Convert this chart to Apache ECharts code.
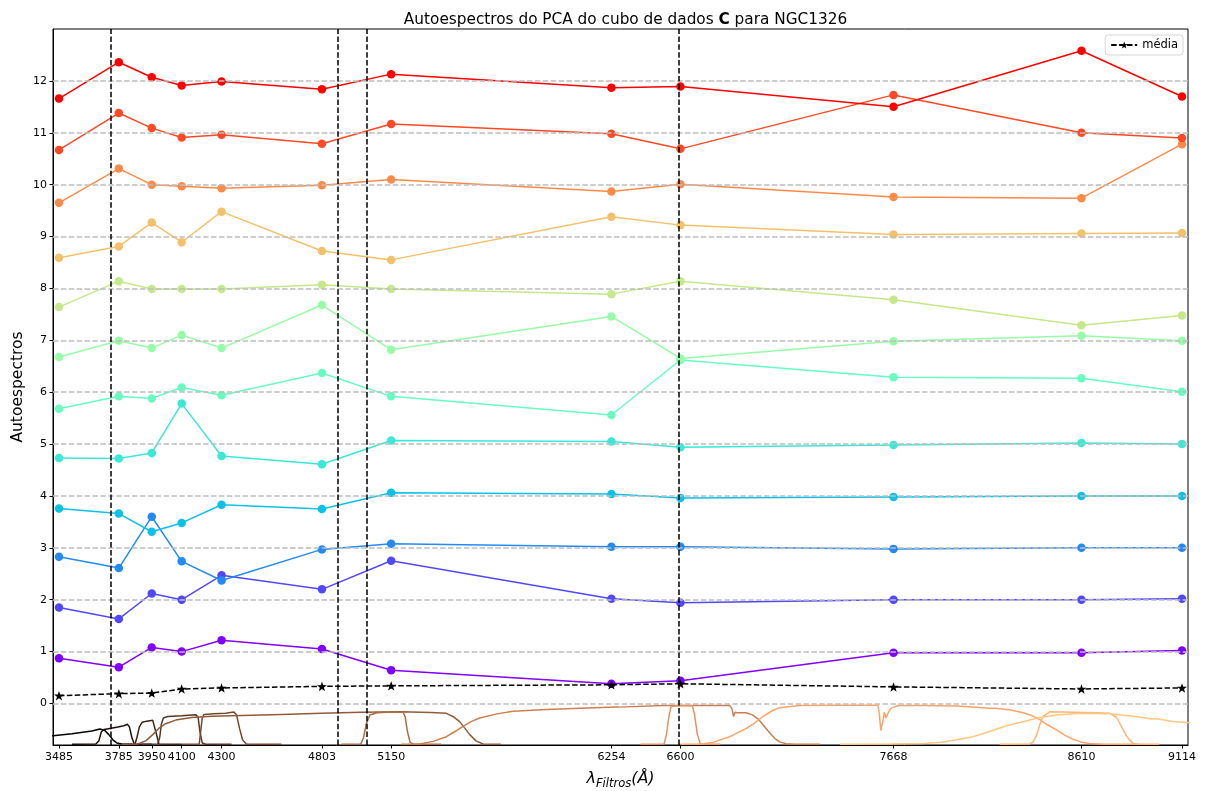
<!DOCTYPE html>
<html>
<head>
<meta charset="utf-8">
<script src="https://cdn.jsdelivr.net/npm/echarts@6/dist/echarts.min.js"></script>
<style>
  html, body { margin: 0; padding: 0; background: #ffffff; }
  #chart { width: 1207px; height: 791px; }
</style>
</head>
<body>
<div id="chart"></div>
<script>
// Central wavelengths of the 12 filters (Å) — also the x tick labels
const wavelengths = [3485, 3785, 3950, 4100, 4300, 4803, 5150, 6254, 6600, 7668, 8610, 9114];

// Eigenspectra, already shifted by their order (PC at offset 1 .. 12)
const pc01 = [0.87, 0.70, 1.08, 1.00, 1.22, 1.05, 0.64, 0.38, 0.44, 0.98, 0.98, 1.02];
const pc02 = [1.85, 1.63, 2.12, 2.00, 2.47, 2.20, 2.75, 2.02, 1.94, 2.00, 2.00, 2.02];
const pc03 = [2.83, 2.61, 3.60, 2.74, 2.37, 2.97, 3.08, 3.02, 3.02, 2.98, 3.00, 3.00];
const pc04 = [3.76, 3.66, 3.31, 3.48, 3.83, 3.75, 4.06, 4.04, 3.96, 3.98, 4.00, 4.00];
const pc05 = [4.73, 4.72, 4.83, 5.78, 4.77, 4.61, 5.07, 5.05, 4.94, 4.98, 5.02, 5.00];
const pc06 = [5.68, 5.92, 5.88, 6.09, 5.94, 6.37, 5.92, 5.56, 6.62, 6.29, 6.27, 6.01];
const pc07 = [6.68, 6.99, 6.85, 7.10, 6.85, 7.68, 6.82, 7.46, 6.65, 6.98, 7.09, 6.99];
const pc08 = [7.64, 8.14, 7.99, 7.99, 7.99, 8.07, 7.99, 7.89, 8.14, 7.78, 7.29, 7.48];
const pc09 = [8.59, 8.81, 9.27, 8.89, 9.48, 8.72, 8.55, 9.38, 9.22, 9.04, 9.06, 9.07];
const pc10 = [9.65, 10.31, 10.00, 9.97, 9.93, 9.99, 10.10, 9.87, 10.01, 9.76, 9.74, 10.78];
const pc11 = [10.67, 11.38, 11.09, 10.91, 10.96, 10.79, 11.17, 10.98, 10.69, 11.73, 11.00, 10.90];
const pc12 = [11.66, 12.36, 12.07, 11.91, 11.99, 11.84, 12.13, 11.87, 11.89, 11.50, 12.58, 11.70];

// Mean spectrum
const media = [0.15, 0.19, 0.20, 0.28, 0.30, 0.33, 0.34, 0.36, 0.38, 0.32, 0.28, 0.30];

// Redshifted emission lines: [OII]3727, Hβ, [OIII]5007, Hα
const emissionLines = [3744, 4883, 5030, 6593];

// Y tick values
const yTicks = [0, 1, 2, 3, 4, 5, 6, 7, 8, 9, 10, 11, 12];

// Filter transmission curves, scaled into the strip below zero: [λ (Å), level]
const fUJAVA = [[3250, -0.70], [3350, -0.66], [3455, -0.62], [3550, -0.585], [3650, -0.53], [3690, -0.49], [3700, -0.485], [3715, -0.52], [3735, -0.60], [3755, -0.70], [3775, -0.76], [3800, -0.78], [3850, -0.785]];
const fJ0378 = [[3550, -0.785], [3670, -0.78], [3685, -0.72], [3697, -0.55], [3710, -0.50], [3740, -0.48], [3780, -0.455], [3810, -0.43], [3828, -0.40], [3838, -0.45], [3850, -0.65], [3862, -0.78], [3950, -0.785]];
const fJ0395 = [[3800, -0.785], [3866, -0.78], [3876, -0.65], [3888, -0.45], [3902, -0.36], [3925, -0.34], [3955, -0.325], [3964, -0.36], [3974, -0.60], [3986, -0.78], [4100, -0.785]];
const fJ0410 = [[3900, -0.785], [3980, -0.78], [3990, -0.65], [3998, -0.40], [4008, -0.28], [4030, -0.25], [4100, -0.235], [4170, -0.215], [4182, -0.26], [4192, -0.55], [4203, -0.76], [4220, -0.785], [4350, -0.785]];
const fJ0430 = [[4100, -0.785], [4188, -0.78], [4195, -0.55], [4203, -0.28], [4212, -0.21], [4260, -0.20], [4320, -0.19], [4362, -0.165], [4375, -0.22], [4390, -0.48], [4405, -0.70], [4425, -0.785], [4600, -0.785]];
const fGSDSS = [[3800, -0.785], [3880, -0.78], [3920, -0.72], [3955, -0.60], [3985, -0.48], [4020, -0.39], [4070, -0.32], [4150, -0.27], [4250, -0.245], [4400, -0.23], [4600, -0.21], [4800, -0.19], [5000, -0.17], [5200, -0.16], [5350, -0.175], [5427, -0.19], [5460, -0.25], [5493, -0.35], [5520, -0.48], [5544, -0.60], [5575, -0.72], [5610, -0.78], [5700, -0.785]];
const fJ0515 = [[4900, -0.785], [4998, -0.78], [5012, -0.65], [5025, -0.40], [5043, -0.22], [5080, -0.18], [5150, -0.165], [5210, -0.17], [5220, -0.25], [5232, -0.55], [5245, -0.75], [5260, -0.785], [5400, -0.785]];
const fRSDSS = [[5200, -0.785], [5293, -0.78], [5360, -0.73], [5427, -0.64], [5470, -0.54], [5510, -0.44], [5550, -0.35], [5594, -0.28], [5680, -0.20], [5761, -0.15], [5900, -0.12], [6095, -0.09], [6275, -0.07], [6282, -0.09], [6290, -0.07], [6513, -0.04], [6700, -0.04], [6847, -0.04], [6858, -0.10], [6866, -0.25], [6874, -0.17], [6885, -0.18], [6930, -0.18], [6960, -0.22], [6990, -0.30], [7020, -0.44], [7048, -0.57], [7075, -0.68], [7097, -0.74], [7130, -0.775], [7170, -0.785], [7300, -0.785]];
const fJ0660 = [[6400, -0.785], [6518, -0.78], [6530, -0.60], [6542, -0.25], [6553, -0.06], [6600, -0.04], [6660, -0.045], [6670, -0.20], [6685, -0.60], [6700, -0.785], [6800, -0.785]];
const fISDSS = [[6600, -0.785], [6697, -0.785], [6763, -0.75], [6847, -0.64], [6930, -0.48], [6975, -0.37], [7014, -0.25], [7060, -0.14], [7097, -0.08], [7198, -0.04], [7400, -0.035], [7590, -0.035], [7597, -0.20], [7604, -0.52], [7610, -0.54], [7617, -0.30], [7622, -0.17], [7630, -0.28], [7637, -0.30], [7645, -0.15], [7660, -0.08], [7697, -0.04], [7816, -0.04], [7983, -0.05], [8100, -0.075], [8150, -0.09], [8160, -0.105], [8175, -0.09], [8250, -0.12], [8317, -0.18], [8360, -0.23], [8401, -0.31], [8440, -0.41], [8485, -0.51], [8530, -0.62], [8568, -0.69], [8610, -0.745], [8651, -0.77], [8720, -0.785], [8900, -0.785]];
const fJ0861 = [[8200, -0.785], [8351, -0.78], [8368, -0.74], [8384, -0.62], [8402, -0.40], [8418, -0.25], [8451, -0.16], [8568, -0.17], [8680, -0.18], [8753, -0.19], [8786, -0.27], [8805, -0.40], [8819, -0.51], [8836, -0.63], [8853, -0.71], [8870, -0.77], [8890, -0.785], [9000, -0.785]];
const fZSDSS = [[7400, -0.785], [7648, -0.78], [7816, -0.77], [7899, -0.75], [7983, -0.70], [8066, -0.64], [8150, -0.54], [8234, -0.43], [8317, -0.35], [8401, -0.27], [8485, -0.22], [8601, -0.19], [8753, -0.20], [8903, -0.26], [8960, -0.30], [8980, -0.29], [8990, -0.31], [9069, -0.345], [9152, -0.37], [9250, -0.39]];

const filterNames = ['uJAVA', 'J0378', 'J0395', 'J0410', 'J0430', 'gSDSS', 'J0515', 'rSDSS', 'J0660', 'iSDSS', 'J0861', 'zSDSS'];
const filterCurves = [fUJAVA, fJ0378, fJ0395, fJ0410, fJ0430, fGSDSS, fJ0515, fRSDSS, fJ0660, fISDSS, fJ0861, fZSDSS];

const pcs = [pc01, pc02, pc03, pc04, pc05, pc06, pc07, pc08, pc09, pc10, pc11, pc12];

// matplotlib "rainbow" colormap sampled at 12 steps
function rainbow(t) {
  const r = Math.min(1, Math.abs(2 * t - 0.5));
  const g = Math.sin(Math.PI * t);
  const b = Math.cos(Math.PI * t / 2);
  return 'rgb(' + [r, g, b].map(v => Math.round(Math.max(0, Math.min(1, v)) * 255)).join(',') + ')';
}
// matplotlib "copper" colormap
function copper(t) {
  const r = Math.min(1, 1.25 * t), g = 0.7812 * t, b = 0.4975 * t;
  return 'rgb(' + [r, g, b].map(v => Math.round(v * 255)).join(',') + ')';
}

const FONT = 'DejaVu Sans';
const X_MIN = 3455, X_MAX = 9144;
const Y_MIN = -0.8, Y_MAX = 13;

const starPath = 'path://M0,-10 L2.35,-3.24 L9.51,-3.09 L3.8,1.24 L5.88,8.09 L0,4 L-5.88,8.09 L-3.8,1.24 L-9.51,-3.09 L-2.35,-3.24 Z';

const series = [];

// horizontal dashed grid at each y tick
series.push({
  type: 'line',
  name: '__grid',
  data: [],
  z: 1,
  silent: true,
  markLine: {
    silent: true,
    symbol: 'none',
    label: { show: false },
    animation: false,
    lineStyle: { color: '#bdbdbd', width: 1.5, type: [5.5, 2.4] },
    data: yTicks.map(v => ({ yAxis: v }))
  }
});

// filter curves
filterCurves.forEach((curve, i) => {
  series.push({
    type: 'line',
    name: filterNames[i],
    data: curve,
    showSymbol: false,
    symbol: 'none',
    clip: true,
    z: 2,
    lineStyle: { color: copper(i / 11), width: 1.5 },
    emphasis: { disabled: true },
    animation: false
  });
});

// eigenspectra
pcs.forEach((vals, i) => {
  const c = rainbow(i / 11);
  series.push({
    type: 'line',
    name: 'PC' + (i + 1),
    data: wavelengths.map((w, k) => [w, vals[k]]),
    symbol: 'circle',
    symbolSize: 8.5,
    z: 3,
    lineStyle: { color: c, width: 1.5 },
    itemStyle: { color: c, borderWidth: 0 },
    emphasis: { disabled: true },
    animation: false
  });
});

// mean spectrum + emission line markers
series.push({
  type: 'line',
  name: 'média',
  data: wavelengths.map((w, k) => [w, media[k]]),
  symbol: starPath,
  symbolSize: 10,
  symbolKeepAspect: true,
  z: 4,
  lineStyle: { color: '#000000', width: 1.5, type: [5.5, 2.4] },
  itemStyle: { color: '#000000', borderWidth: 0 },
  emphasis: { disabled: true },
  animation: false,
  markLine: {
    silent: true,
    symbol: 'none',
    label: { show: false },
    animation: false,
    lineStyle: { color: '#000000', width: 1.5, type: [5.5, 2.4] },
    data: emissionLines.map(v => ({ xAxis: v }))
  }
});

const chart = echarts.init(document.getElementById('chart'), null, { renderer: 'canvas' });
chart.setOption({
  backgroundColor: '#ffffff',
  animation: false,
  textStyle: { fontFamily: FONT },
  title: {
    text: '{n|Autoespectros do PCA do cubo de dados }{b|C}{n| para NGC1326}',
    left: 620.5,
    textAlign: 'center',
    top: 8,
    textStyle: {
      fontWeight: 'normal',
      rich: {
        n: { fontFamily: FONT, fontSize: 15.3, fontWeight: 'normal', color: '#000000' },
        b: { fontFamily: FONT, fontSize: 15.3, fontWeight: 'bold', color: '#000000' }
      }
    }
  },
  legend: {
    data: ['média'],
    right: 24,
    top: 35,
    orient: 'horizontal',
    itemWidth: 26,
    itemHeight: 9,
    itemGap: 6,
    padding: [4, 5, 4, 5],
    backgroundColor: '#ffffff',
    borderColor: '#d6d6d6',
    borderWidth: 1,
    borderRadius: 3,
    textStyle: { fontFamily: FONT, fontSize: 11.5, color: '#000000' }
  },
  grid: {
    left: 53,
    right: 19,
    top: 29,
    bottom: 46,
    containLabel: false,
    outerBoundsMode: 'none',
    show: true,
    borderColor: '#000000',
    borderWidth: 1,
    backgroundColor: 'transparent'
  },
  xAxis: {
    type: 'value',
    min: X_MIN,
    max: X_MAX,
    name: '{l|λ}{s|Filtros}{p|(Å)}',
    nameLocation: 'middle',
    nameGap: 23,
    nameTextStyle: {
      rich: {
        l: { fontFamily: FONT, fontSize: 16, fontStyle: 'italic', color: '#000' },
        s: { fontFamily: FONT, fontSize: 11.5, fontStyle: 'italic', color: '#000', padding: [10, 0, 0, 0] },
        p: { fontFamily: FONT, fontSize: 16, fontStyle: 'italic', color: '#000' }
      }
    },
    axisLine: { show: true, onZero: false, lineStyle: { color: '#000000', width: 1 } },
    axisTick: { show: true, length: 3.5, lineStyle: { color: '#000000' }, customValues: wavelengths },
    axisLabel: {
      customValues: wavelengths,
      formatter: v => String(v),
      hideOverlap: false,
      color: '#000000',
      fontFamily: FONT,
      fontSize: 11,
      margin: 7,
      showMinLabel: true,
      showMaxLabel: true
    },
    splitLine: { show: false }
  },
  yAxis: {
    type: 'value',
    min: Y_MIN,
    max: Y_MAX,
    name: 'Autoespectros',
    nameLocation: 'middle',
    nameGap: 27,
    nameMoveOverlap: false,
    nameTextStyle: { fontFamily: FONT, fontSize: 15.5, color: '#000000' },
    axisLine: { show: true, onZero: false, lineStyle: { color: '#000000', width: 1 } },
    axisTick: { show: true, length: 3.5, lineStyle: { color: '#000000' }, customValues: yTicks },
    axisLabel: {
      customValues: yTicks,
      formatter: v => String(v),
      color: '#000000',
      fontFamily: FONT,
      fontSize: 11,
      margin: 6
    },
    splitLine: { show: false }
  },
  series: series
});
</script>
</body>
</html>
